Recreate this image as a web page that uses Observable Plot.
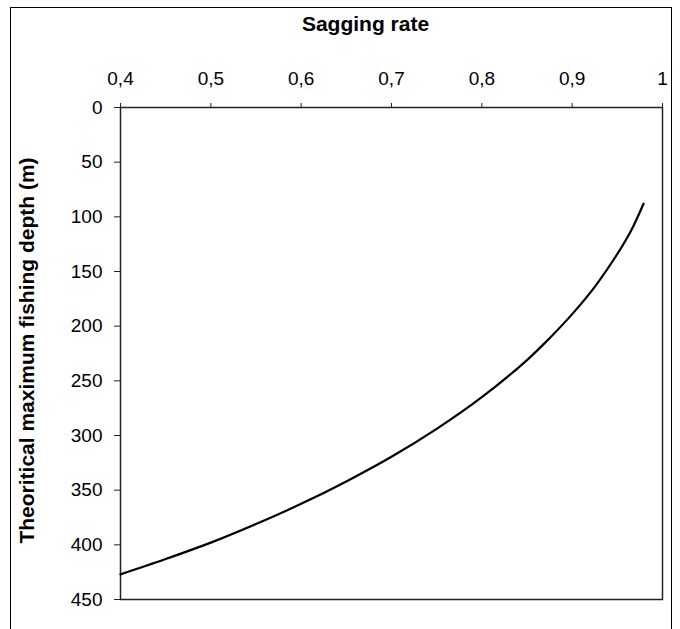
<!DOCTYPE html>
<html>
<head>
<meta charset="utf-8">
<script src="https://cdn.jsdelivr.net/npm/d3@7"></script>
<script src="https://cdn.jsdelivr.net/npm/@observablehq/plot@0.6"></script>
<style>
  html, body { margin: 0; padding: 0; background: #fff; }
  #wrap { position: relative; width: 680px; height: 629px; overflow: hidden; }
  #border { position: absolute; left: 10px; top: 7px; width: 662px; height: 640px; border: 1.5px solid #000; box-sizing: border-box; pointer-events: none; }
  #chart { position: absolute; left: 0; top: 0; }
</style>
</head>
<body>
<div id="wrap"><div id="chart"></div><div id="border"></div></div>
<script>
const sagging = [0.400, 0.450, 0.500, 0.550, 0.600, 0.650, 0.700, 0.750, 0.800, 0.850, 0.875, 0.900, 0.925, 0.950, 0.965, 0.979];
const depth   = [427,   413,   398,   381,   362.5, 342,   319.5, 294,   265,   231,   211,   189,   164,   134,   113,   88];
const xTicks = [0.4, 0.5, 0.6, 0.7, 0.8, 0.9, 1];
const yTicks = [0, 50, 100, 150, 200, 250, 300, 350, 400, 450];
const xTitle = "Sagging rate";
const yTitle = "Theoritical maximum fishing depth (m)";

const chart = Plot.plot({
  width: 680,
  height: 629,
  marginLeft: 120,
  marginRight: 18,
  marginTop: 107,
  marginBottom: 30,
  style: { fontFamily: "'Liberation Sans', Arial, sans-serif", fontSize: "19px", color: "#000", background: "transparent" },
  x: { domain: [0.4, 1] },
  y: { domain: [0, 450], reverse: true },
  marks: [
    Plot.frame({ stroke: "#222", strokeWidth: 1.5 }),
    Plot.axisX({ anchor: "top", ticks: xTicks, tickFormat: d => String(d).replace(".", ","), tickSize: 5, tickPadding: 18, fontSize: 19, label: null, stroke: "#222" }),
    Plot.axisY({ anchor: "left", ticks: yTicks, tickSize: 6, tickPadding: 12, fontSize: 19, label: null, stroke: "#222" }),
    Plot.line(sagging, { x: sagging, y: depth, stroke: "#000", strokeWidth: 2.2, curve: "catmull-rom" }),
    Plot.text([xTitle], { text: d => d, frameAnchor: "top", textAnchor: "middle", lineAnchor: "middle", dx: -26, dy: -83, fontWeight: "bold", fontSize: 21 }),
    Plot.text([yTitle], { text: d => d, frameAnchor: "left", textAnchor: "middle", lineAnchor: "middle", rotate: -90, dx: -93, dy: -3, fontWeight: "bold", fontSize: 21 })
  ]
});
document.getElementById("chart").appendChild(chart);
</script>
</body>
</html>
